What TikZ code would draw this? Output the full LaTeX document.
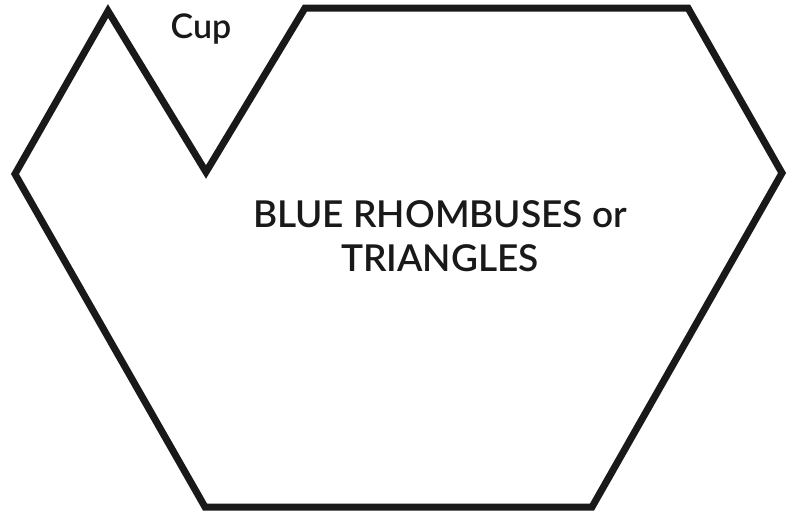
\documentclass[tikz,border=0pt]{standalone}
\usepackage{fontspec}
\setmainfont{Lato}[BoldFont={Lato Semibold}]
\begin{document}
\begin{tikzpicture}[x=1pt,y=-1pt,
  outline/.style={draw=black!90, line width=7pt, line join=miter, miter limit=10},
  biglabel/.style={font=\bfseries\fontsize{37}{44}\selectfont, text=black!90, align=center, inner sep=0pt},
  smalllabel/.style={font=\bfseries\fontsize{34}{36}\selectfont, text=black!90, inner sep=0pt}]
\useasboundingbox (0,0) rectangle (794,512);
\coordinate (p1) at (108,11);
\coordinate (p2) at (206,172);
\coordinate (p3) at (305,8);
\coordinate (p4) at (688,8);
\coordinate (p5) at (782,173);
\coordinate (p6) at (592,507);
\coordinate (p7) at (205,507);
\coordinate (p8) at (15,174);
\draw[outline] (p1) -- (p2) -- (p3) -- (p4) -- (p5) -- (p6) -- (p7) -- (p8) -- cycle;
\node[biglabel] (main) at (440,236) {BLUE RHOMBUSES or\\TRIANGLES};
\node[smalllabel] (cup) at (201,29) {Cup};
\end{tikzpicture}
\end{document}
